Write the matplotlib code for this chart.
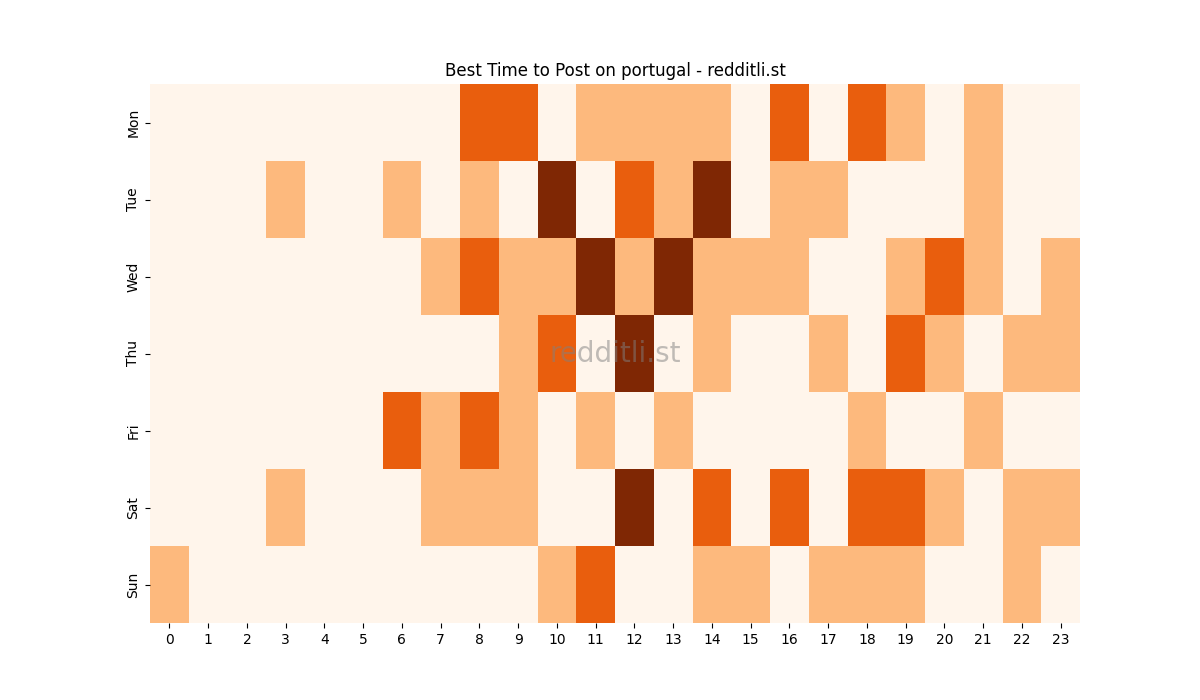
import matplotlib
matplotlib.use("Agg")
import matplotlib.pyplot as plt
import seaborn as sns
import numpy as np

days = ["Mon", "Tue", "Wed", "Thu", "Fri", "Sat", "Sun"]
hours = list(range(24))

mon = [0, 0, 0, 0, 0, 0, 0, 0, 2, 2, 0, 1, 1, 1, 1, 0, 2, 0, 2, 1, 0, 1, 0, 0]
tue = [0, 0, 0, 1, 0, 0, 1, 0, 1, 0, 3, 0, 2, 1, 3, 0, 1, 1, 0, 0, 0, 1, 0, 0]
wed = [0, 0, 0, 0, 0, 0, 0, 1, 2, 1, 1, 3, 1, 3, 1, 1, 1, 0, 0, 1, 2, 1, 0, 1]
thu = [0, 0, 0, 0, 0, 0, 0, 0, 0, 1, 2, 0, 3, 0, 1, 0, 0, 1, 0, 2, 1, 0, 1, 1]
fri = [0, 0, 0, 0, 0, 0, 2, 1, 2, 1, 0, 1, 0, 1, 0, 0, 0, 0, 1, 0, 0, 1, 0, 0]
sat = [0, 0, 0, 1, 0, 0, 0, 1, 1, 1, 0, 0, 3, 0, 2, 0, 2, 0, 2, 2, 1, 0, 1, 1]
sun = [1, 0, 0, 0, 0, 0, 0, 0, 0, 0, 1, 2, 0, 0, 1, 1, 0, 1, 1, 1, 0, 0, 1, 0]

grid = np.array([mon, tue, wed, thu, fri, sat, sun])

fig = plt.figure(figsize=(12, 7), dpi=100)
ax = sns.heatmap(grid, cmap="Oranges", cbar=False,
                 xticklabels=hours, yticklabels=days)
ax.set_title("Best Time to Post on portugal - redditli.st")
ax.text(0.5, 0.5, "redditli.st", transform=ax.transAxes,
        fontsize=20, color="gray", alpha=0.5, ha="center", va="center")

plt.savefig("out.png")
